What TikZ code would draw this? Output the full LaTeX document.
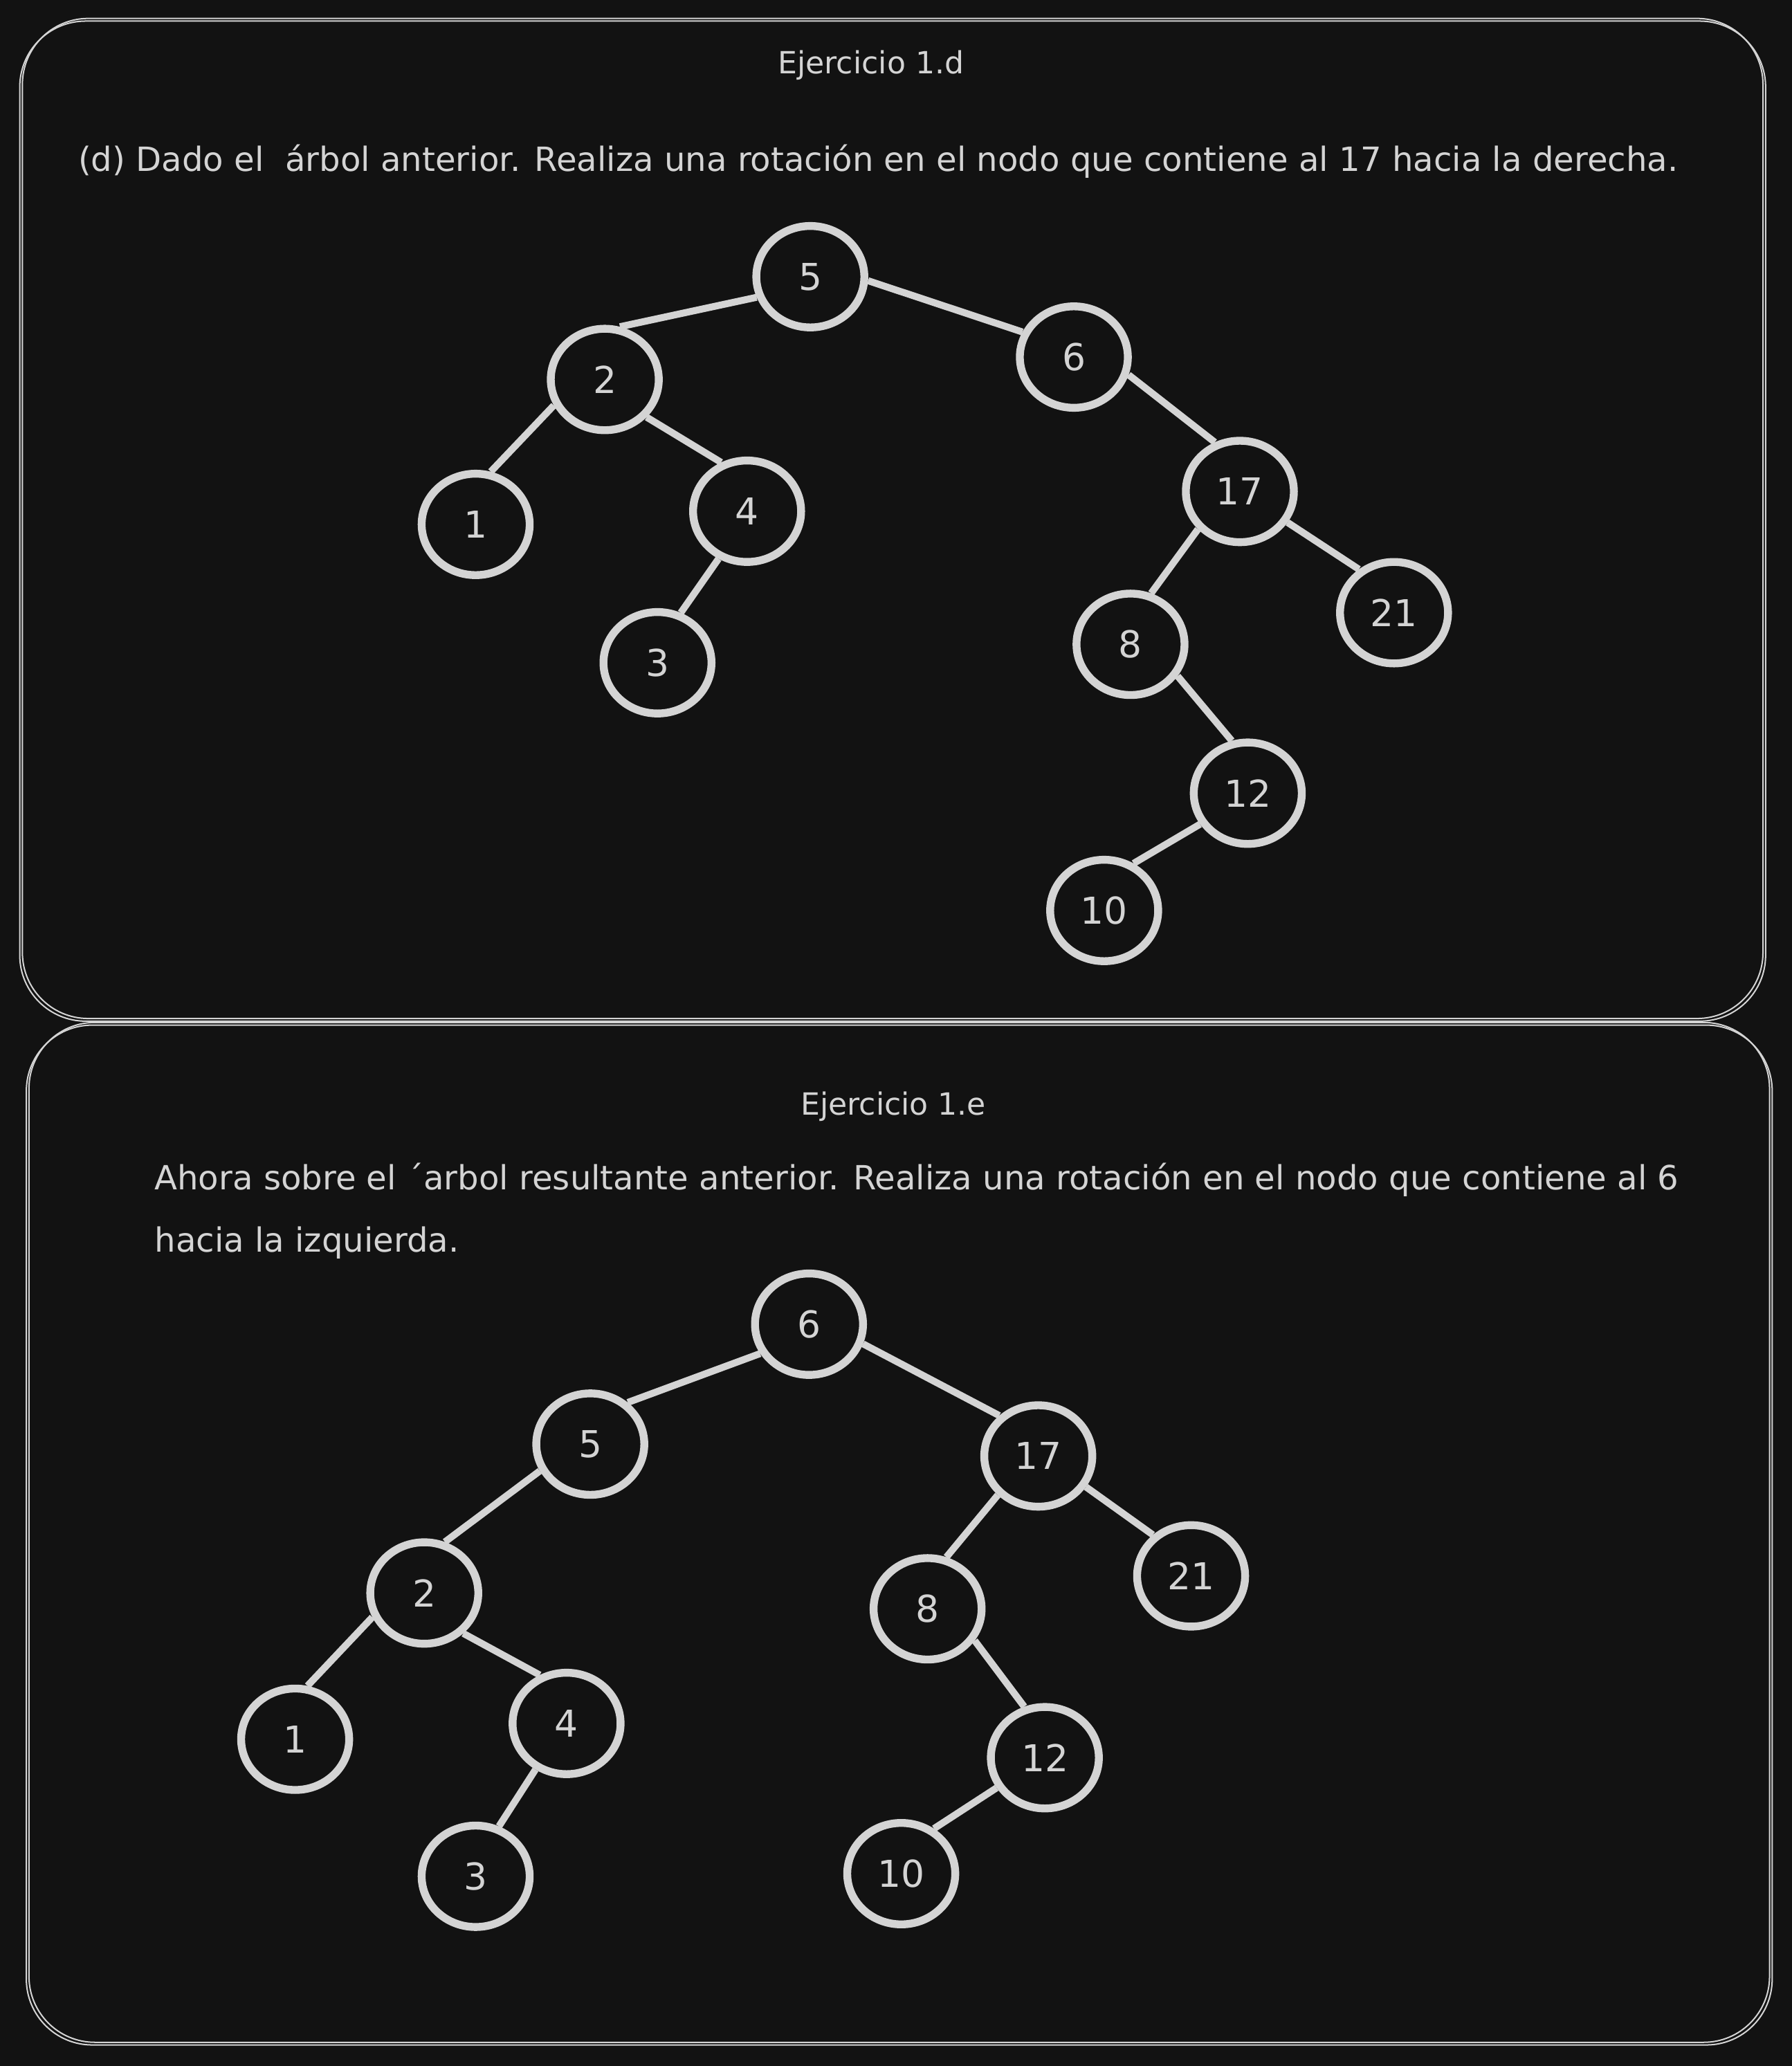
\documentclass[tikz,border=0pt]{standalone}
\usepackage{fontspec}
\setmainfont{DejaVu Sans}
\usetikzlibrary{shapes.geometric}
\definecolor{fondo}{HTML}{121212}
\definecolor{trazo}{HTML}{D4D4D4}

\begin{document}
\begin{tikzpicture}[x=0.02cm, y=-0.02cm,
    nodo/.style={ellipse, draw=trazo, line width=3.4pt, minimum width=1.64cm, minimum height=1.54cm,
                 inner sep=0pt, text=trazo, font=\fontsize{16}{16}\selectfont},
    arista/.style={draw=trazo, line width=3pt},
    marco/.style={draw=trazo, line width=0.6pt, rounded corners=1cm},
    texto/.style={text=trazo, font=\fontsize{14.4}{14.4}\selectfont, inner sep=0pt},
    titulo/.style={text=trazo, font=\fontsize{13.2}{13.2}\selectfont, inner sep=0pt}]
    % Background
    \fill[fondo] (0,0) rectangle (1360,1568);
    \useasboundingbox (0,0) rectangle (1360,1568);

    % Frames
    \draw[marco] (15,16) rectangle (1340,775);
    \draw[marco] (17,14) rectangle (1338,773);
    \draw[marco] (20,778) rectangle (1345,1552);
    \draw[marco] (22,776) rectangle (1343,1550);

    % Texts, first exercise
    \node[titulo, anchor=base] (tituloD) at (661,56) {Ejercicio 1.d};
    \node[texto, anchor=base west] (enunciadoD) at (59,130)
        {(d) Dado el~ árbol anterior. Realiza una rotación en el nodo que contiene al 17 hacia la derecha.};

    % Tree before the rotation
    \node[nodo] (a5) at (615,210) {5};
    \node[nodo] (a2) at (459,288) {2};
    \node[nodo] (a6) at (815,271) {6};
    \node[nodo] (a1) at (361,398) {1};
    \node[nodo] (a4) at (567,388) {4};
    \node[nodo] (a17) at (941,373) {17};
    \node[nodo] (a3) at (499,503) {3};
    \node[nodo] (a8) at (858,489) {8};
    \node[nodo] (a21) at (1058,465) {21};
    \node[nodo] (a12) at (947,602) {12};
    \node[nodo] (a10) at (838,691) {10};
    \foreach \p/\ap/\h/\ah in {a5/201/a2/74, a5/356/a6/154, a2/207/a1/74, a2/318/a4/118,
                               a4/239/a3/65, a6/342/a17/117, a17/222/a8/68, a17/327/a21/129,
                               a8/326/a12/107, a12/213/a10/58}
        \draw[arista] (\p.\ap) -- (\h.\ah);

    % Texts, second exercise
    \node[titulo, anchor=base] (tituloE) at (678,846) {Ejercicio 1.e};
    \node[texto, anchor=base west] (enunciadoE) at (117,903)
        {Ahora sobre el ´arbol resultante anterior. Realiza una rotación en el nodo que contiene al 6};
    \node[texto, anchor=base west] (enunciadoE2) at (117,950) {hacia la izquierda.};

    % Tree after the rotation
    \node[nodo] (b6) at (614,1005) {6};
    \node[nodo] (b5) at (448,1096) {5};
    \node[nodo] (b17) at (788,1105) {17};
    \node[nodo] (b2) at (322,1209) {2};
    \node[nodo] (b8) at (704,1221) {8};
    \node[nodo] (b21) at (904,1196) {21};
    \node[nodo] (b1) at (224,1320) {1};
    \node[nodo] (b4) at (430,1308) {4};
    \node[nodo] (b12) at (793,1334) {12};
    \node[nodo] (b3) at (361,1424) {3};
    \node[nodo] (b10) at (684,1422) {10};
    \foreach \p/\ap/\h/\ah in {b6/211/b5/48, b6/340/b17/134, b5/208/b2/68, b2/205/b1/77,
                               b2/314/b4/119, b4/236/b3/65, b17/224/b8/70, b17/327/b21/133,
                               b8/326/b12/112, b12/212/b10/54}
        \draw[arista] (\p.\ap) -- (\h.\ah);
\end{tikzpicture}
\end{document}
